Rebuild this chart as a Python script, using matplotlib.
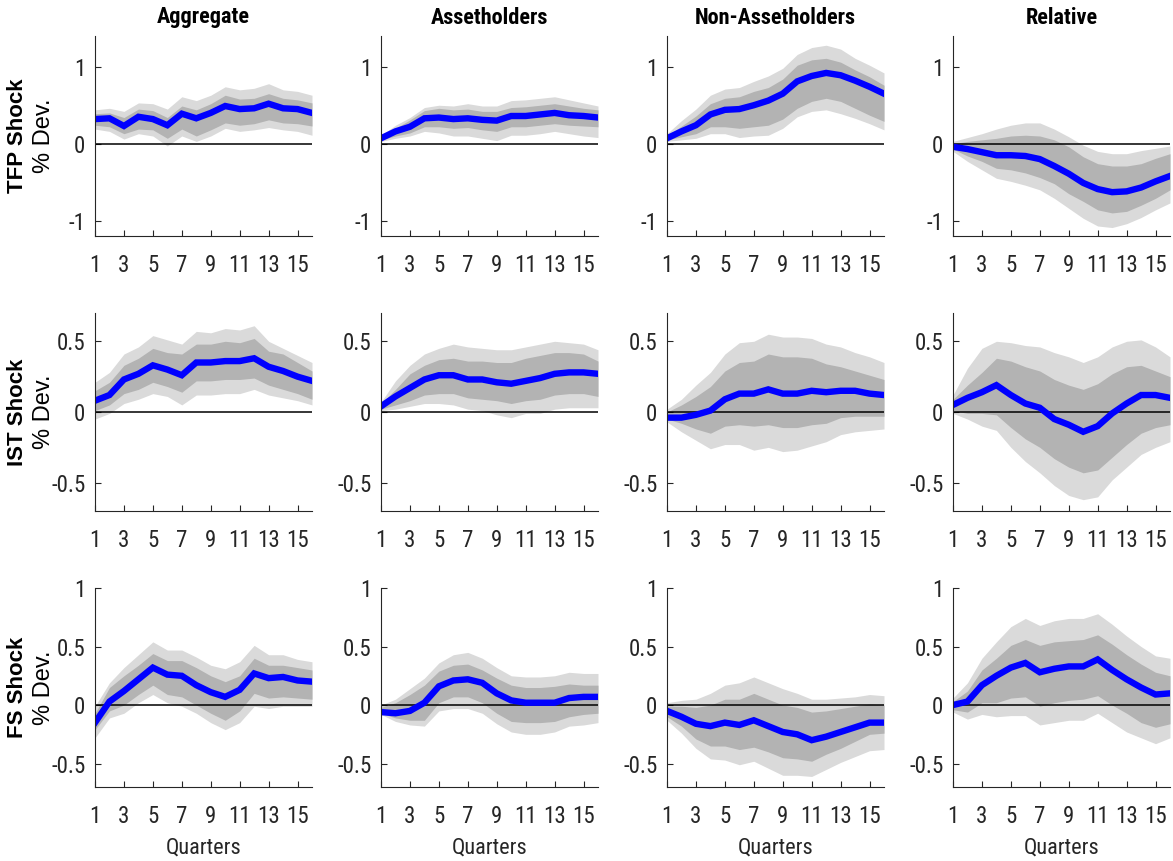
import matplotlib

matplotlib.use("Agg")

import matplotlib.pyplot as plt
import numpy as np
from matplotlib import font_manager

# pick a narrow sans font if there is one
names = set(f.name for f in font_manager.fontManager.ttflist)
narrow = "DejaVu Sans"
for cand in ["Liberation Sans Narrow", "Roboto Condensed", "DejaVu Sans Condensed", "Liberation Sans"]:
    if cand in names:
        narrow = cand
        break

plt.rcParams["font.family"] = [narrow, "DejaVu Sans"]
plt.rcParams["axes.unicode_minus"] = False

quarters = np.arange(1, 17)
columns = ["Aggregate", "Assetholders", "Non-Assetholders", "Relative"]
shocks = ["TFP Shock", "IST Shock", "FS Shock"]

# ---- TFP shock ----
tfp_agg = [0.32, 0.33, 0.23, 0.35, 0.32, 0.24, 0.39, 0.33, 0.40, 0.49, 0.45, 0.46, 0.52, 0.46, 0.45, 0.40]
tfp_agg_in_hi = [0.39, 0.40, 0.34, 0.45, 0.43, 0.34, 0.49, 0.44, 0.52, 0.63, 0.58, 0.59, 0.65, 0.59, 0.57, 0.53]
tfp_agg_in_lo = [0.24, 0.22, 0.13, 0.19, 0.18, 0.07, 0.19, 0.10, 0.18, 0.27, 0.24, 0.26, 0.31, 0.27, 0.26, 0.23]
tfp_agg_out_hi = [0.44, 0.46, 0.42, 0.53, 0.52, 0.45, 0.61, 0.56, 0.63, 0.74, 0.70, 0.72, 0.78, 0.70, 0.68, 0.63]
tfp_agg_out_lo = [0.19, 0.16, 0.06, 0.13, 0.10, -0.03, 0.10, 0.03, 0.10, 0.20, 0.16, 0.18, 0.21, 0.18, 0.16, 0.11]

tfp_ah = [0.07, 0.16, 0.22, 0.33, 0.34, 0.32, 0.33, 0.31, 0.30, 0.36, 0.36, 0.38, 0.40, 0.37, 0.36, 0.34]
tfp_ah_in_hi = [0.10, 0.20, 0.31, 0.43, 0.46, 0.44, 0.45, 0.42, 0.42, 0.47, 0.48, 0.50, 0.52, 0.49, 0.46, 0.44]
tfp_ah_in_lo = [0.05, 0.10, 0.14, 0.22, 0.22, 0.20, 0.21, 0.18, 0.16, 0.22, 0.22, 0.24, 0.26, 0.24, 0.23, 0.22]
tfp_ah_out_hi = [0.11, 0.24, 0.34, 0.47, 0.50, 0.49, 0.52, 0.49, 0.49, 0.56, 0.57, 0.59, 0.61, 0.57, 0.53, 0.49]
tfp_ah_out_lo = [0.03, 0.07, 0.10, 0.16, 0.14, 0.10, 0.10, 0.07, 0.04, 0.11, 0.11, 0.13, 0.16, 0.13, 0.10, 0.08]

tfp_nah = [0.07, 0.16, 0.24, 0.38, 0.44, 0.45, 0.50, 0.56, 0.65, 0.81, 0.88, 0.92, 0.89, 0.82, 0.74, 0.65]
tfp_nah_in_hi = [0.10, 0.23, 0.36, 0.52, 0.59, 0.61, 0.68, 0.73, 0.84, 1.02, 1.09, 1.11, 1.06, 0.96, 0.87, 0.76]
tfp_nah_in_lo = [0.05, 0.09, 0.13, 0.22, 0.22, 0.20, 0.22, 0.24, 0.32, 0.46, 0.55, 0.59, 0.55, 0.46, 0.37, 0.29]
tfp_nah_out_hi = [0.13, 0.30, 0.45, 0.63, 0.71, 0.73, 0.81, 0.88, 0.98, 1.16, 1.25, 1.28, 1.23, 1.11, 1.02, 0.92]
tfp_nah_out_lo = [0.03, 0.05, 0.07, 0.13, 0.13, 0.08, 0.10, 0.11, 0.20, 0.35, 0.42, 0.44, 0.39, 0.33, 0.26, 0.18]

tfp_rel = [-0.04, -0.07, -0.11, -0.15, -0.15, -0.16, -0.20, -0.29, -0.39, -0.51, -0.59, -0.63, -0.62, -0.57, -0.49, -0.42]
tfp_rel_in_hi = [0.00, 0.03, 0.05, 0.07, 0.10, 0.11, 0.10, 0.05, -0.04, -0.17, -0.26, -0.29, -0.29, -0.26, -0.19, -0.13]
tfp_rel_in_lo = [-0.07, -0.16, -0.23, -0.32, -0.34, -0.38, -0.44, -0.52, -0.65, -0.75, -0.86, -0.90, -0.88, -0.80, -0.71, -0.60]
tfp_rel_out_hi = [0.03, 0.08, 0.13, 0.19, 0.24, 0.27, 0.27, 0.19, 0.09, -0.02, -0.10, -0.13, -0.13, -0.09, -0.06, -0.03]
tfp_rel_out_lo = [-0.10, -0.23, -0.34, -0.45, -0.49, -0.54, -0.60, -0.71, -0.84, -0.97, -1.07, -1.09, -1.04, -0.96, -0.86, -0.77]

# ---- IST shock ----
ist_agg = [0.08, 0.12, 0.23, 0.27, 0.33, 0.30, 0.26, 0.35, 0.35, 0.36, 0.36, 0.38, 0.32, 0.29, 0.25, 0.22]
ist_agg_in_hi = [0.15, 0.21, 0.33, 0.38, 0.45, 0.42, 0.41, 0.48, 0.48, 0.50, 0.49, 0.52, 0.43, 0.41, 0.35, 0.29]
ist_agg_in_lo = [0.01, 0.05, 0.13, 0.16, 0.21, 0.18, 0.14, 0.22, 0.22, 0.23, 0.23, 0.24, 0.19, 0.16, 0.13, 0.09]
ist_agg_out_hi = [0.21, 0.28, 0.41, 0.46, 0.54, 0.51, 0.48, 0.57, 0.56, 0.59, 0.58, 0.61, 0.50, 0.45, 0.40, 0.35]
ist_agg_out_lo = [-0.05, -0.01, 0.06, 0.09, 0.13, 0.11, 0.05, 0.12, 0.12, 0.13, 0.13, 0.16, 0.12, 0.10, 0.08, 0.05]

ist_ah = [0.04, 0.11, 0.17, 0.23, 0.26, 0.26, 0.23, 0.23, 0.21, 0.20, 0.22, 0.24, 0.27, 0.28, 0.28, 0.27]
ist_ah_in_hi = [0.06, 0.16, 0.27, 0.33, 0.37, 0.38, 0.36, 0.36, 0.35, 0.35, 0.38, 0.40, 0.42, 0.42, 0.41, 0.36]
ist_ah_in_lo = [0.02, 0.05, 0.08, 0.12, 0.13, 0.13, 0.10, 0.09, 0.08, 0.06, 0.08, 0.09, 0.12, 0.13, 0.13, 0.11]
ist_ah_out_hi = [0.07, 0.22, 0.33, 0.41, 0.45, 0.48, 0.46, 0.45, 0.44, 0.44, 0.46, 0.48, 0.50, 0.49, 0.48, 0.44]
ist_ah_out_lo = [0.01, 0.02, 0.04, 0.06, 0.06, 0.05, 0.02, 0.01, -0.02, -0.04, -0.01, -0.01, 0.02, 0.03, 0.03, 0.03]

ist_nah = [-0.04, -0.04, -0.02, 0.01, 0.09, 0.13, 0.13, 0.16, 0.13, 0.13, 0.15, 0.14, 0.15, 0.15, 0.13, 0.12]
ist_nah_in_hi = [0.00, 0.05, 0.11, 0.18, 0.29, 0.35, 0.36, 0.41, 0.39, 0.39, 0.38, 0.34, 0.32, 0.29, 0.26, 0.23]
ist_nah_in_lo = [-0.05, -0.08, -0.12, -0.15, -0.10, -0.09, -0.10, -0.09, -0.11, -0.11, -0.09, -0.08, -0.04, -0.03, -0.03, -0.03]
ist_nah_out_hi = [0.02, 0.09, 0.19, 0.28, 0.41, 0.49, 0.50, 0.55, 0.53, 0.53, 0.52, 0.48, 0.46, 0.42, 0.39, 0.35]
ist_nah_out_lo = [-0.07, -0.14, -0.20, -0.26, -0.23, -0.23, -0.27, -0.25, -0.28, -0.27, -0.24, -0.21, -0.16, -0.14, -0.13, -0.12]

ist_rel = [0.05, 0.10, 0.14, 0.19, 0.12, 0.06, 0.03, -0.05, -0.09, -0.14, -0.10, -0.01, 0.06, 0.12, 0.12, 0.10]
ist_rel_in_hi = [0.09, 0.19, 0.28, 0.38, 0.36, 0.32, 0.29, 0.23, 0.19, 0.16, 0.20, 0.27, 0.32, 0.33, 0.29, 0.25]
ist_rel_in_lo = [0.01, -0.01, -0.01, -0.02, -0.11, -0.19, -0.25, -0.33, -0.39, -0.43, -0.41, -0.32, -0.23, -0.15, -0.11, -0.09]
ist_rel_out_hi = [0.12, 0.31, 0.45, 0.50, 0.49, 0.47, 0.46, 0.42, 0.39, 0.35, 0.39, 0.46, 0.50, 0.51, 0.46, 0.39]
ist_rel_out_lo = [-0.01, -0.05, -0.10, -0.13, -0.25, -0.35, -0.43, -0.52, -0.59, -0.62, -0.60, -0.48, -0.39, -0.30, -0.25, -0.21]

# ---- FS shock ----
fs_agg = [-0.15, 0.03, 0.12, 0.22, 0.32, 0.26, 0.25, 0.17, 0.11, 0.07, 0.13, 0.27, 0.23, 0.24, 0.21, 0.20]
fs_agg_in_hi = [-0.07, 0.15, 0.25, 0.34, 0.44, 0.38, 0.38, 0.32, 0.25, 0.20, 0.25, 0.40, 0.34, 0.34, 0.32, 0.30]
fs_agg_in_lo = [-0.21, -0.05, 0.00, 0.09, 0.17, 0.09, 0.07, 0.00, -0.07, -0.13, -0.05, 0.10, 0.06, 0.07, 0.06, 0.05]
fs_agg_out_hi = [-0.01, 0.19, 0.32, 0.43, 0.54, 0.47, 0.47, 0.41, 0.34, 0.31, 0.37, 0.51, 0.43, 0.43, 0.39, 0.37]
fs_agg_out_lo = [-0.28, -0.11, -0.07, 0.02, 0.09, 0.02, -0.01, -0.07, -0.15, -0.21, -0.15, -0.01, -0.03, -0.01, -0.01, -0.01]

fs_ah = [-0.06, -0.07, -0.05, 0.02, 0.16, 0.21, 0.22, 0.19, 0.10, 0.04, 0.02, 0.02, 0.02, 0.06, 0.07, 0.07]
fs_ah_in_hi = [-0.02, 0.02, 0.09, 0.17, 0.29, 0.34, 0.35, 0.30, 0.23, 0.17, 0.15, 0.15, 0.16, 0.18, 0.17, 0.17]
fs_ah_in_lo = [-0.07, -0.11, -0.13, -0.13, 0.02, 0.07, 0.07, 0.02, -0.07, -0.14, -0.15, -0.15, -0.14, -0.10, -0.08, -0.07]
fs_ah_out_hi = [0.00, 0.05, 0.14, 0.23, 0.36, 0.43, 0.45, 0.40, 0.32, 0.25, 0.24, 0.24, 0.25, 0.28, 0.27, 0.27]
fs_ah_out_lo = [-0.08, -0.14, -0.17, -0.18, -0.05, -0.03, -0.03, -0.07, -0.16, -0.23, -0.25, -0.25, -0.23, -0.18, -0.17, -0.15]

fs_nah = [-0.05, -0.10, -0.16, -0.18, -0.15, -0.17, -0.13, -0.18, -0.23, -0.25, -0.30, -0.27, -0.23, -0.19, -0.15, -0.15]
fs_nah_in_hi = [-0.01, -0.01, -0.02, 0.00, 0.05, 0.05, 0.10, 0.05, 0.00, -0.02, -0.06, -0.05, -0.03, -0.01, 0.01, 0.00]
fs_nah_in_lo = [-0.10, -0.18, -0.29, -0.35, -0.35, -0.38, -0.36, -0.40, -0.45, -0.46, -0.48, -0.42, -0.37, -0.31, -0.25, -0.24]
fs_nah_out_hi = [0.02, 0.04, 0.05, 0.10, 0.17, 0.19, 0.24, 0.19, 0.14, 0.10, 0.05, 0.05, 0.06, 0.07, 0.09, 0.08]
fs_nah_out_lo = [-0.13, -0.24, -0.37, -0.46, -0.47, -0.51, -0.48, -0.54, -0.60, -0.60, -0.61, -0.55, -0.49, -0.44, -0.39, -0.38]

fs_rel = [0.00, 0.03, 0.17, 0.25, 0.32, 0.36, 0.28, 0.31, 0.33, 0.33, 0.39, 0.30, 0.22, 0.15, 0.09, 0.10]
fs_rel_in_hi = [0.03, 0.12, 0.30, 0.40, 0.51, 0.56, 0.51, 0.54, 0.55, 0.56, 0.60, 0.52, 0.43, 0.35, 0.28, 0.25]
fs_rel_in_lo = [-0.04, -0.06, 0.02, 0.02, 0.06, 0.07, -0.01, 0.02, 0.04, 0.05, 0.08, 0.00, -0.07, -0.15, -0.19, -0.16]
fs_rel_out_hi = [0.06, 0.19, 0.40, 0.54, 0.67, 0.74, 0.68, 0.72, 0.74, 0.74, 0.78, 0.69, 0.59, 0.50, 0.42, 0.40]
fs_rel_out_lo = [-0.06, -0.12, -0.08, -0.10, -0.09, -0.09, -0.17, -0.15, -0.13, -0.13, -0.07, -0.15, -0.23, -0.28, -0.33, -0.28]

panels = [
    [
        (tfp_agg, tfp_agg_in_lo, tfp_agg_in_hi, tfp_agg_out_lo, tfp_agg_out_hi),
        (tfp_ah, tfp_ah_in_lo, tfp_ah_in_hi, tfp_ah_out_lo, tfp_ah_out_hi),
        (tfp_nah, tfp_nah_in_lo, tfp_nah_in_hi, tfp_nah_out_lo, tfp_nah_out_hi),
        (tfp_rel, tfp_rel_in_lo, tfp_rel_in_hi, tfp_rel_out_lo, tfp_rel_out_hi),
    ],
    [
        (ist_agg, ist_agg_in_lo, ist_agg_in_hi, ist_agg_out_lo, ist_agg_out_hi),
        (ist_ah, ist_ah_in_lo, ist_ah_in_hi, ist_ah_out_lo, ist_ah_out_hi),
        (ist_nah, ist_nah_in_lo, ist_nah_in_hi, ist_nah_out_lo, ist_nah_out_hi),
        (ist_rel, ist_rel_in_lo, ist_rel_in_hi, ist_rel_out_lo, ist_rel_out_hi),
    ],
    [
        (fs_agg, fs_agg_in_lo, fs_agg_in_hi, fs_agg_out_lo, fs_agg_out_hi),
        (fs_ah, fs_ah_in_lo, fs_ah_in_hi, fs_ah_out_lo, fs_ah_out_hi),
        (fs_nah, fs_nah_in_lo, fs_nah_in_hi, fs_nah_out_lo, fs_nah_out_hi),
        (fs_rel, fs_rel_in_lo, fs_rel_in_hi, fs_rel_out_lo, fs_rel_out_hi),
    ],
]

row_ylim = [(-1.2, 1.4), (-0.7, 0.7), (-0.7, 1.0)]
row_yticks = [[-1, 0, 1], [-0.5, 0, 0.5], [-0.5, 0, 0.5, 1]]
row_yticklabels = [["-1", "0", "1"], ["-0.5", "0", "0.5"], ["-0.5", "0", "0.5", "1"]]

W, H = 1173, 861
fig = plt.figure(figsize=(W / 100, H / 100), dpi=100)

col_left = [95, 381, 667, 953]
row_top = [36, 313, 588]
row_bot = [236, 511, 787]
ax_w = 217

axes_color = "#262626"

for r in range(3):
    for c in range(4):
        left = col_left[c] / W
        bottom = 1 - row_bot[r] / H
        height = (row_bot[r] - row_top[r]) / H
        ax = fig.add_axes([left, bottom, ax_w / W, height])
        line, in_lo, in_hi, out_lo, out_hi = panels[r][c]
        ax.fill_between(quarters, out_lo, out_hi, color="#dadada", lw=0)
        ax.fill_between(quarters, in_lo, in_hi, color="#b3b3b3", lw=0)
        ax.axhline(0, color="black", lw=1.1)
        ax.plot(quarters, line, color="#0000ff", lw=4.6, solid_joinstyle="miter")
        ax.set_xlim(1, 16)
        ax.set_ylim(*row_ylim[r])
        ax.set_xticks([1, 3, 5, 7, 9, 11, 13, 15])
        ax.set_yticks(row_yticks[r])
        ax.set_yticklabels(row_yticklabels[r])
        ax.spines["top"].set_visible(False)
        ax.spines["right"].set_visible(False)
        for s in ("left", "bottom"):
            ax.spines[s].set_color(axes_color)
            ax.spines[s].set_linewidth(0.8)
        ax.tick_params(direction="in", length=4, width=0.8, colors=axes_color,
                       labelsize=16.5)
        ax.tick_params(axis="x", pad=13)
        ax.tick_params(axis="y", pad=7)
        if r == 0:
            ax.set_title(columns[c], fontsize=16, fontweight="bold", pad=9)
        if r == 2:
            ax.set_xlabel("Quarters", fontsize=16, color=axes_color, labelpad=7)
        if c == 0:
            yc = 1 - (row_top[r] + row_bot[r]) / 2 / H
            fig.text(18 / W, yc, shocks[r], rotation=90, ha="center", va="center",
                     fontsize=16, fontweight="bold", family=["Liberation Sans", "DejaVu Sans"])
            fig.text(44 / W, yc, "% Dev.", rotation=90, ha="center", va="center",
                     fontsize=17, family=["Liberation Sans", "DejaVu Sans"])

fig.savefig("out.png", dpi=100)
plt.close("all")
